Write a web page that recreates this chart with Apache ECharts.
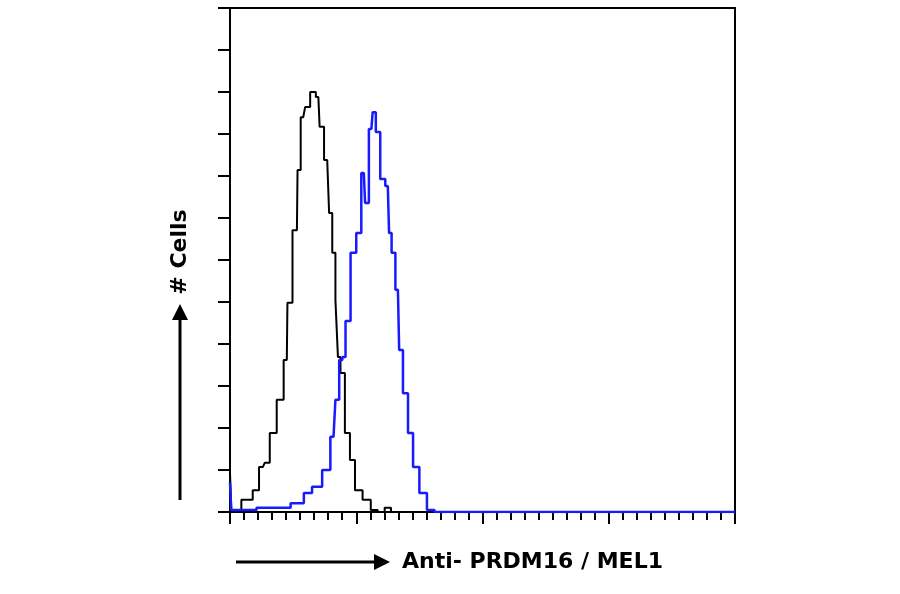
<!DOCTYPE html>
<html>
<head>
<meta charset="utf-8">
<script src="https://cdn.jsdelivr.net/npm/echarts@6/dist/echarts.min.js"></script>
<style>html,body{margin:0;padding:0;background:#fff}#chart{width:900px;height:594px}</style>
</head>
<body>
<div id="chart"></div>
<script>
// x in decades of log fluorescence, y in cell-count units
var isotypeX = [0, 0.02, 0.16, 0.2, 0.26, 0.29, 0.34, 0.40, 0.45, 0.46, 0.53, 0.54, 0.58, 0.61, 0.66, 0.70, 0.72, 0.77, 0.80, 0.82, 0.85, 0.86, 0.89, 0.93, 0.97, 1.01, 1.09, 1.14, 1.2, 1.25, 1.3, 4];
var isotypeY = [0.93, 0.05, 0.29, 0.52, 1.07, 1.17, 1.88, 2.67, 3.62, 4.98, 6.71, 8.14, 9.40, 9.64, 10.0, 9.88, 9.17, 8.38, 7.12, 6.17, 5.05, 3.69, 3.31, 1.88, 1.24, 0.52, 0.29, 0.05, 0, 0.1, 0, 0];
var prdmX = [0, 0.02, 0.4, 0.56, 0.61, 0.69, 0.77, 0.82, 0.85, 0.88, 0.90, 0.93, 0.98, 1.02, 1.06, 1.08, 1.12, 1.14, 1.17, 1.21, 1.25, 1.27, 1.29, 1.33, 1.35, 1.39, 1.43, 1.47, 1.53, 1.59, 1.65, 4];
var prdmY = [0.7, 0.05, 0.1, 0.21, 0.45, 0.6, 1.0, 1.79, 2.67, 3.62, 3.69, 4.55, 6.17, 6.64, 8.07, 7.36, 9.12, 9.52, 9.05, 7.93, 7.76, 6.64, 6.17, 5.29, 3.86, 2.83, 1.88, 1.07, 0.45, 0.05, 0, 0];

function pairs(xs, ys) { return xs.map(function (x, i) { return [x, ys[i]]; }); }

var chart = echarts.init(document.getElementById('chart'));
var axisLine = { show: true, onZero: false, lineStyle: { color: '#000', width: 2 } };
chart.setOption({
  animation: false,
  grid: { left: 230, right: 165, top: 8, bottom: 82 },
  xAxis: [
    { type: 'value', min: 0, max: 4, interval: 1, axisLine: axisLine,
      axisTick: { show: true, inside: false, length: 12, lineStyle: { color: '#000', width: 2 } },
      minorTick: { show: true, splitNumber: 9, length: 8, lineStyle: { color: '#000', width: 2 } },
      axisLabel: { show: false }, splitLine: { show: false } },
    { type: 'value', show: true, position: 'top', min: 0, max: 4, axisLine: axisLine,
      axisTick: { show: false }, axisLabel: { show: false }, splitLine: { show: false } }
  ],
  yAxis: [
    { type: 'value', min: 0, max: 12, interval: 1, axisLine: axisLine,
      axisTick: { show: true, length: 12, lineStyle: { color: '#000', width: 2 } },
      axisLabel: { show: false }, splitLine: { show: false } },
    { type: 'value', show: true, position: 'right', min: 0, max: 12, axisLine: axisLine,
      axisTick: { show: false }, axisLabel: { show: false }, splitLine: { show: false } }
  ],
  series: [
    { type: 'line', step: 'middle', symbol: 'none', data: pairs(isotypeX, isotypeY),
      lineStyle: { color: '#000', width: 2 } },
    { type: 'line', step: 'middle', symbol: 'none', data: pairs(prdmX, prdmY),
      lineStyle: { color: '#1a1aff', width: 2.5 } }
  ],
  graphic: [
    { type: 'line', shape: { x1: 180, y1: 500, x2: 180, y2: 318 }, style: { stroke: '#000', lineWidth: 3 } },
    { type: 'polygon', shape: { points: [[172, 320], [188, 320], [180, 304]] }, style: { fill: '#000' } },
    { type: 'text', x: 180, y: 252, rotation: Math.PI / 2,
      style: { text: '# Cells', font: 'bold 22px "DejaVu Sans", Verdana', fill: '#000', align: 'center', verticalAlign: 'middle' } },
    { type: 'line', shape: { x1: 236, y1: 562, x2: 376, y2: 562 }, style: { stroke: '#000', lineWidth: 3 } },
    { type: 'polygon', shape: { points: [[374, 554], [374, 570], [390, 562]] }, style: { fill: '#000' } },
    { type: 'text', x: 402, y: 562,
      style: { text: 'Anti- PRDM16 / MEL1', font: 'bold 22px "DejaVu Sans", Verdana', fill: '#000', align: 'left', verticalAlign: 'middle' } }
  ]
});
</script>
</body>
</html>
